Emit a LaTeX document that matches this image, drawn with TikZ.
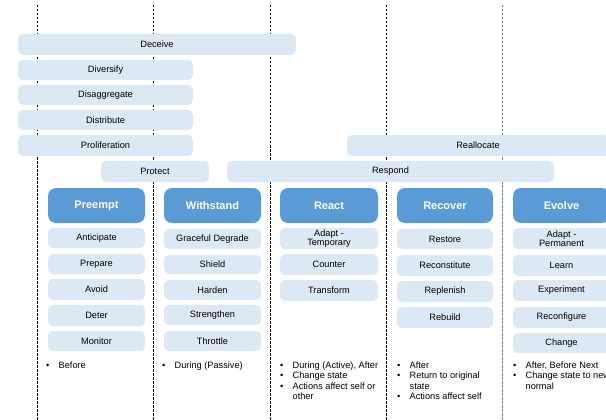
\documentclass[tikz,border=0pt]{standalone}
\usepackage{fontspec}
\setmainfont{Liberation Sans}
\usepackage{array}
\definecolor{lightblue}{HTML}{DDE8F5}
\definecolor{headblue}{HTML}{5B9BD5}
\tikzset{
  lbox/.style={fill=lightblue, rounded corners=5pt, inner sep=0pt, align=center, text=black,
    font=\fontsize{9.2}{9}\selectfont},
  hbox/.style={fill=headblue, rounded corners=8pt, inner sep=0pt, text=white,
    font=\bfseries\fontsize{11}{11}\selectfont},
  vline/.style={dash pattern=on 2.5pt off 1.5pt, line width=0.8pt},
  blist/.style={anchor=base west, inner sep=0pt, font=\fontsize{9.2}{10.6}\selectfont}
}
\newcommand{\placebox}[7]{\node[#1,minimum width={(#5-#3)*1pt},minimum height={(#6-#4)*1pt}] (#2) at ({(#3+#5)/2},{(#4+#6)/2}) {#7};}
\newcommand{\bl}{\makebox[12.5pt][l]{•}}
\begin{document}
\begin{tikzpicture}[x=1pt,y=-1pt]
\useasboundingbox (0,0) rectangle (606,420);
\clip (0,0) rectangle (606,420);
% dividers
\foreach \i/\xx in {1/37,2/153,3/270,4/386}{
  \coordinate (t\i) at (\xx,5);
  \coordinate (b\i) at (\xx,420);
  \draw[vline] (t\i) -- (b\i);
}
\coordinate (t5) at (502,5);
\coordinate (b5) at (502,420);
\draw[vline, gray] (t5) -- (b5);
% strategy bars
\placebox{lbox}{deceive}{18}{34}{296}{55}{Deceive}
\placebox{lbox}{diversify}{18}{60}{193}{80}{Diversify}
\placebox{lbox}{disagg}{18}{85}{193}{105}{Disaggregate}
\placebox{lbox}{distrib}{18}{110}{193}{130}{Distribute}
\placebox{lbox}{prolif}{18}{135}{193}{156}{Proliferation}
\placebox{lbox}{realloc}{347}{135}{609}{156}{Reallocate}
\placebox{lbox}{protect}{101}{161}{209}{182}{Protect}
\placebox{lbox}{respond}{227}{161}{554}{182}{Respond}
% headers
\placebox{hbox}{preempt}{48}{188}{145}{223}{Preempt}
\placebox{hbox}{withstand}{164}{188}{261}{223}{Withstand}
\placebox{hbox}{react}{280}{188}{378}{223}{React}
\placebox{hbox}{recover}{397}{188}{493}{223}{Recover}
\placebox{hbox}{evolve}{513}{188}{610}{223}{Evolve}
% preempt column
\placebox{lbox}{anticipate}{48}{228}{145}{248}{Anticipate}
\placebox{lbox}{prepare}{48}{254}{145}{274}{Prepare}
\placebox{lbox}{avoid}{48}{279}{145}{300}{Avoid}
\placebox{lbox}{deter}{48}{305}{145}{326}{Deter}
\placebox{lbox}{monitor}{48}{331}{145}{351}{Monitor}
% withstand column
\placebox{lbox}{graceful}{164}{229}{261}{249}{Graceful Degrade}
\placebox{lbox}{shield}{164}{255}{261}{274}{Shield}
\placebox{lbox}{harden}{164}{280}{261}{300}{Harden}
\placebox{lbox}{strengthen}{164}{305}{261}{325}{Strengthen}
\placebox{lbox}{throttle}{164}{331}{261}{351}{Throttle}
% react column
\placebox{lbox}{adapttemp}{280}{228}{378}{249}{Adapt -\\Temporary}
\placebox{lbox}{counter}{280}{254}{378}{275}{Counter}
\placebox{lbox}{transform}{280}{280}{378}{301}{Transform}
% recover column
\placebox{lbox}{restore}{397}{229}{493}{249}{Restore}
\placebox{lbox}{reconstitute}{397}{255}{493}{276}{Reconstitute}
\placebox{lbox}{replenish}{397}{281}{493}{302}{Replenish}
\placebox{lbox}{rebuild}{397}{307}{493}{328}{Rebuild}
% evolve column
\placebox{lbox}{adaptperm}{513}{228}{610}{249}{Adapt -\\Permanent}
\placebox{lbox}{learn}{513}{255}{610}{276}{Learn}
\placebox{lbox}{experiment}{513}{280}{610}{301}{Experiment}
\placebox{lbox}{reconfigure}{513}{307}{610}{328}{Reconfigure}
\placebox{lbox}{change}{513}{333}{610}{353}{Change}
% notes
\node[blist] (n1) at (46,368) {\begin{tabular}[t]{@{}l@{}l@{}}\bl & Before\end{tabular}};
\node[blist] (n2) at (162,368) {\begin{tabular}[t]{@{}l@{}l@{}}\bl & During (Passive)\end{tabular}};
\node[blist] (n3) at (280,368) {\begin{tabular}[t]{@{}l@{}l@{}}\bl & During (Active), After\\ \bl & Change state\\ \bl & Actions affect self or\\ & other\end{tabular}};
\node[blist] (n4) at (397,368) {\begin{tabular}[t]{@{}l@{}l@{}}\bl & After\\ \bl & Return to original\\ & state\\ \bl & Actions affect self\end{tabular}};
\node[blist] (n5) at (513,368) {\begin{tabular}[t]{@{}l@{}l@{}}\bl & After, Before Next\\ \bl & Change state to new\\ & normal\end{tabular}};
\end{tikzpicture}
\end{document}
